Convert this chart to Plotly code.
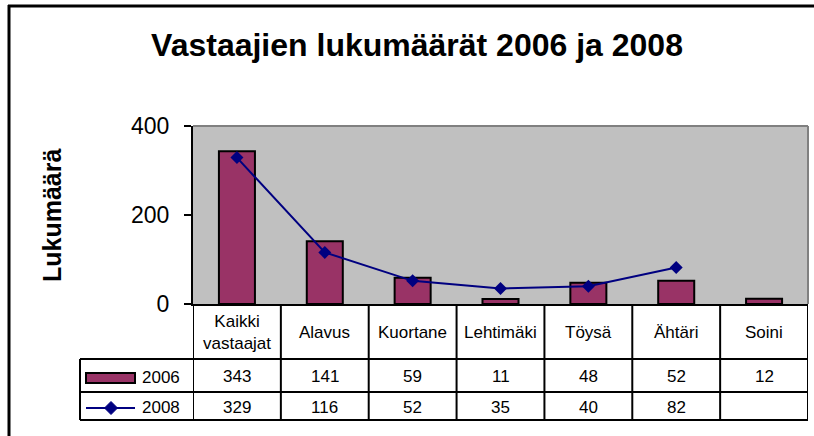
import plotly.graph_objects as go

categories = ["Kaikki vastaajat", "Alavus", "Kuortane", "Lehtimäki", "Töysä", "Ähtäri", "Soini"]
header_labels = ["Kaikki<br>vastaajat", "Alavus", "Kuortane", "Lehtimäki", "Töysä", "Ähtäri", "Soini"]
values_2006 = [343, 141, 59, 11, 48, 52, 12]
values_2008 = [329, 116, 52, 35, 40, 82, None]
series_names = ["2006", "2008"]
y_ticks = [0, 200, 400]

FONT = "Liberation Sans, Arial, sans-serif"
W, H = 814, 436
L, R, T, B = 193, 6, 126, 132
PW = W - L - R
PH = H - T - B

BAR_COLOR = "#993366"
LINE_COLOR = "#000080"


def px_x(x):
    return (x - L) / PW


def px_y(y):
    return (H - B - y) / PH


fig = go.Figure()
fig.add_trace(go.Bar(
    x=categories, y=values_2006, name=series_names[0],
    marker=dict(color=BAR_COLOR, line=dict(color="black", width=2)),
    width=0.41, showlegend=False,
))
fig.add_trace(go.Scatter(
    x=categories, y=values_2008, name=series_names[1], mode="lines+markers",
    line=dict(color=LINE_COLOR, width=2),
    marker=dict(symbol="diamond", size=10, color=LINE_COLOR),
    connectgaps=False, showlegend=False,
))

shapes = []
annotations = []

# outer chart border (left and top)
shapes.append(dict(type="line", xref="paper", yref="paper", x0=px_x(9), x1=px_x(9),
                   y0=px_y(5), y1=px_y(440), line=dict(color="black", width=3)))
shapes.append(dict(type="line", xref="paper", yref="paper", x0=px_x(8), x1=px_x(820),
                   y0=px_y(6), y1=px_y(6), line=dict(color="black", width=3)))

# plot area gray border top/right
shapes.append(dict(type="line", xref="paper", yref="paper", x0=0, x1=1, y0=1, y1=1,
                   line=dict(color="#808080", width=2)))
shapes.append(dict(type="line", xref="paper", yref="paper", x0=1, x1=1, y0=0, y1=1,
                   line=dict(color="#808080", width=2)))

# data table lines
n = len(categories)
y_head_bot = px_y(359)
y_mid = px_y(392)
y_bot = px_y(420)
for k in range(n + 1):
    shapes.append(dict(type="line", xref="x", yref="paper", x0=k - 0.5, x1=k - 0.5,
                       y0=0, y1=y_bot, line=dict(color="black", width=2)))
for yy in (y_head_bot, y_mid, y_bot):
    shapes.append(dict(type="line", xref="paper", yref="paper", x0=px_x(80), x1=1,
                       y0=yy, y1=yy, line=dict(color="black", width=2)))
shapes.append(dict(type="line", xref="paper", yref="paper", x0=px_x(80), x1=px_x(80),
                   y0=y_head_bot, y1=y_bot, line=dict(color="black", width=2)))

# legend keys in table
shapes.append(dict(type="rect", xref="paper", yref="paper", x0=px_x(86), x1=px_x(135),
                   y0=px_y(383), y1=px_y(373), fillcolor=BAR_COLOR,
                   line=dict(color="black", width=2)))
shapes.append(dict(type="line", xref="paper", yref="paper", x0=px_x(86), x1=px_x(135),
                   y0=px_y(408), y1=px_y(408), line=dict(color=LINE_COLOR, width=2)))
cx, cy, r = 111, 408, 6.5
shapes.append(dict(type="path", xref="paper", yref="paper",
                   path=f"M {px_x(cx - r)} {px_y(cy)} L {px_x(cx)} {px_y(cy - r)} "
                        f"L {px_x(cx + r)} {px_y(cy)} L {px_x(cx)} {px_y(cy + r)} Z",
                   fillcolor=LINE_COLOR, line=dict(color=LINE_COLOR, width=1)))

annotations.append(dict(text=series_names[0], xref="paper", yref="paper", x=px_x(140), y=px_y(377),
                        xanchor="left", yanchor="middle", showarrow=False,
                        font=dict(family=FONT, size=17, color="black")))
annotations.append(dict(text=series_names[1], xref="paper", yref="paper", x=px_x(140), y=px_y(407),
                        xanchor="left", yanchor="middle", showarrow=False,
                        font=dict(family=FONT, size=17, color="black")))

for i, cat in enumerate(categories):
    annotations.append(dict(text=header_labels[i], x=cat, xref="x", yref="paper", y=px_y(332),
                            xanchor="center", yanchor="middle", showarrow=False,
                            font=dict(family=FONT, size=17, color="black")))
    v1 = values_2006[i]
    v2 = values_2008[i]
    annotations.append(dict(text="" if v1 is None else str(v1), x=cat, xref="x", yref="paper",
                            y=px_y(376), xanchor="center", yanchor="middle", showarrow=False,
                            font=dict(family=FONT, size=17, color="black")))
    annotations.append(dict(text="" if v2 is None else str(v2), x=cat, xref="x", yref="paper",
                            y=px_y(407), xanchor="center", yanchor="middle", showarrow=False,
                            font=dict(family=FONT, size=17, color="black")))

# y axis title
annotations.append(dict(text="<b>Lukumäärä</b>", xref="paper", yref="paper", x=px_x(52), y=px_y(216),
                        xanchor="center", yanchor="middle", textangle=-90, showarrow=False,
                        font=dict(family=FONT, size=25, color="black")))

fig.update_layout(
    width=W, height=H,
    margin=dict(l=L, r=R, t=T, b=B, pad=0),
    paper_bgcolor="white", plot_bgcolor="#C0C0C0",
    title=dict(text="<b>Vastaajien lukumäärät 2006 ja 2008</b>", xref="container", yref="container",
               x=417 / W, y=1 - 45 / H, xanchor="center", yanchor="middle",
               font=dict(family=FONT, size=32, color="black")),
    font=dict(family=FONT, color="black"),
    shapes=shapes, annotations=annotations,
    xaxis=dict(type="category", categoryorder="array", categoryarray=categories,
               range=[-0.5, n - 0.5], showticklabels=False, ticks="", showgrid=False,
               showline=True, linecolor="black", linewidth=2, zeroline=False, fixedrange=True),
    yaxis=dict(range=[0, 400], tickvals=y_ticks, ticks="outside", ticklen=7, tickwidth=2,
               tickcolor="black", showline=True, linecolor="black", linewidth=2,
               showgrid=False, zeroline=False, tickfont=dict(family=FONT, size=23, color="black"),
               ticklabelstandoff=10, fixedrange=True),
    showlegend=False,
    bargap=0.59,
)

fig.write_html("out.html", config={"displayModeBar": False},
               post_script="document.body.style.margin='0';document.body.style.overflow='hidden';")
